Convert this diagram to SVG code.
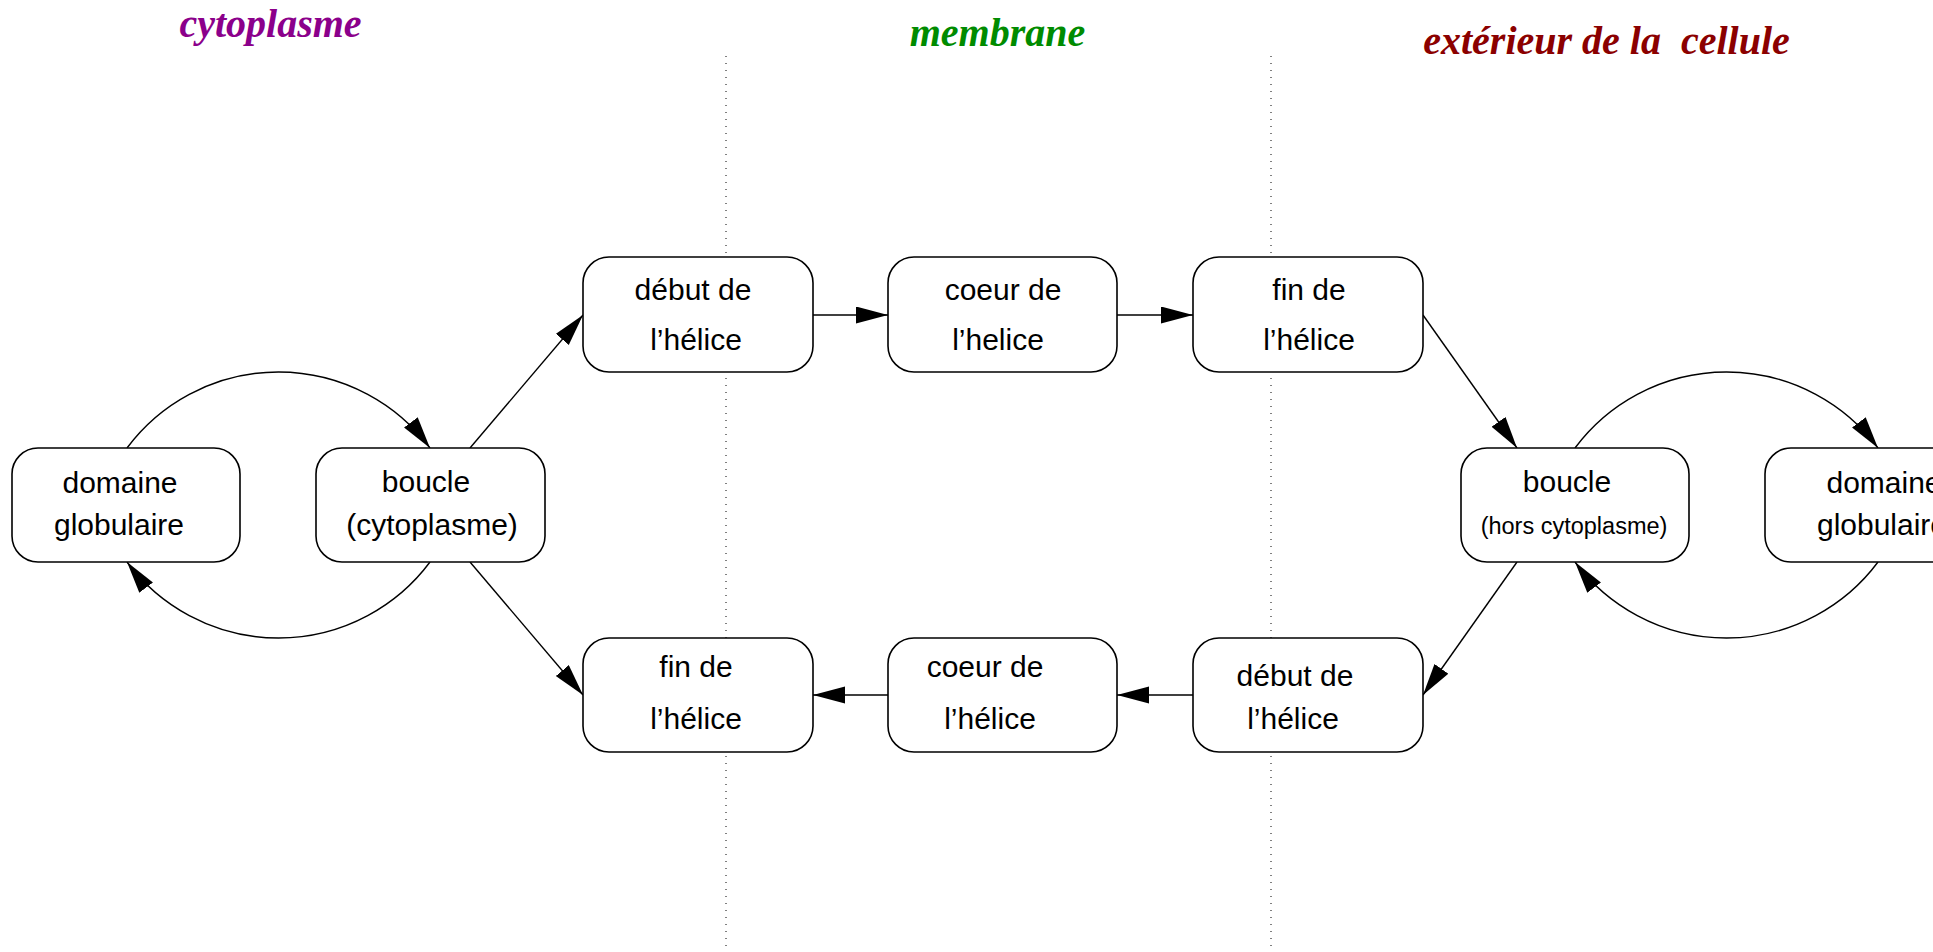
<svg xmlns="http://www.w3.org/2000/svg" width="1933" height="952" viewBox="0 0 1933 952">
<defs>
<style>
.box{fill:#fff;stroke:#000;stroke-width:1.6}
.t{font-family:"Liberation Sans",Arial,sans-serif;font-size:30px;fill:#000;text-anchor:middle}
.ts{font-family:"Liberation Sans",Arial,sans-serif;font-size:23.5px;fill:#000;text-anchor:middle}
.title{font-family:"Liberation Serif","Times New Roman",serif;font-size:40px;font-weight:bold;font-style:italic;text-anchor:middle}
.c{fill:none;stroke:#000;stroke-width:1.4;marker-end:url(#ah)}
.dot{stroke:#000;stroke-width:1;stroke-dasharray:1 6;fill:none}
</style>
<marker id="ah" markerUnits="userSpaceOnUse" markerWidth="33" markerHeight="18" refX="32" refY="8.5" orient="auto">
<path d="M0,0 L32,8.5 L0,17 z" fill="#000"/>
</marker>
</defs>
<rect width="1933" height="952" fill="#fff"/>
<g id="titles">
<text class="title" x="270.5" y="37" fill="#8B008B">cytoplasme</text>
<text class="title" x="997.5" y="46" fill="#008B00">membrane</text>
<text class="title" x="1606.5" y="54" fill="#8B0000" xml:space="preserve">extérieur de la  cellule</text>
</g>
<g id="separators">
<line class="dot" x1="726" y1="56" x2="726" y2="952"/>
<line class="dot" x1="1271" y1="56" x2="1271" y2="952"/>
</g>
<g id="connectors">
<path class="c" d="M127,448 A189,189 0 0 1 430,448"/>
<path class="c" d="M430,562 A189,189 0 0 1 127,562"/>
<path class="c" d="M470,448 L583,315"/>
<path class="c" d="M470,562 L583,695"/>
<path class="c" d="M813,315 L888,315"/>
<path class="c" d="M1117,315 L1193,315"/>
<path class="c" d="M1423,315 L1517,448"/>
<path class="c" d="M1517,562 L1423,695"/>
<path class="c" d="M1193,695 L1117,695"/>
<path class="c" d="M888,695 L813,695"/>
<path class="c" d="M1575,448 A189,189 0 0 1 1878,448"/>
<path class="c" d="M1878,562 A189,189 0 0 1 1575,562"/>
</g>
<g id="domaine-gauche">
<rect class="box" x="12" y="448" width="228" height="114" rx="26"/>
<text class="t" x="120" y="493">domaine</text>
<text class="t" x="119" y="535">globulaire</text>
</g>
<g id="boucle-cytoplasme">
<rect class="box" x="316" y="448" width="229" height="114" rx="26"/>
<text class="t" x="426" y="492">boucle</text>
<text class="t" x="432" y="535">(cytoplasme)</text>
</g>
<g id="debut-haut">
<rect class="box" x="583" y="257" width="230" height="115" rx="26"/>
<text class="t" x="693" y="300">début de</text>
<text class="t" x="696" y="350">l’hélice</text>
</g>
<g id="coeur-haut">
<rect class="box" x="888" y="257" width="229" height="115" rx="26"/>
<text class="t" x="1003" y="300">coeur de</text>
<text class="t" x="998" y="350">l’helice</text>
</g>
<g id="fin-haut">
<rect class="box" x="1193" y="257" width="230" height="115" rx="26"/>
<text class="t" x="1309" y="300">fin de</text>
<text class="t" x="1309" y="350">l’hélice</text>
</g>
<g id="boucle-hors">
<rect class="box" x="1461" y="448" width="228" height="114" rx="26"/>
<text class="t" x="1567" y="492">boucle</text>
<text class="ts" x="1574" y="534">(hors cytoplasme)</text>
</g>
<g id="domaine-droite">
<rect class="box" x="1765" y="448" width="228" height="114" rx="26"/>
<text class="t" x="1884" y="493">domaine</text>
<text class="t" x="1882" y="535">globulaire</text>
</g>
<g id="fin-bas">
<rect class="box" x="583" y="638" width="230" height="114" rx="26"/>
<text class="t" x="696" y="677">fin de</text>
<text class="t" x="696" y="729">l’hélice</text>
</g>
<g id="coeur-bas">
<rect class="box" x="888" y="638" width="229" height="114" rx="26"/>
<text class="t" x="985" y="677">coeur de</text>
<text class="t" x="990" y="729">l’hélice</text>
</g>
<g id="debut-bas">
<rect class="box" x="1193" y="638" width="230" height="114" rx="26"/>
<text class="t" x="1295" y="686">début de</text>
<text class="t" x="1293" y="729">l’hélice</text>
</g>
</svg>
